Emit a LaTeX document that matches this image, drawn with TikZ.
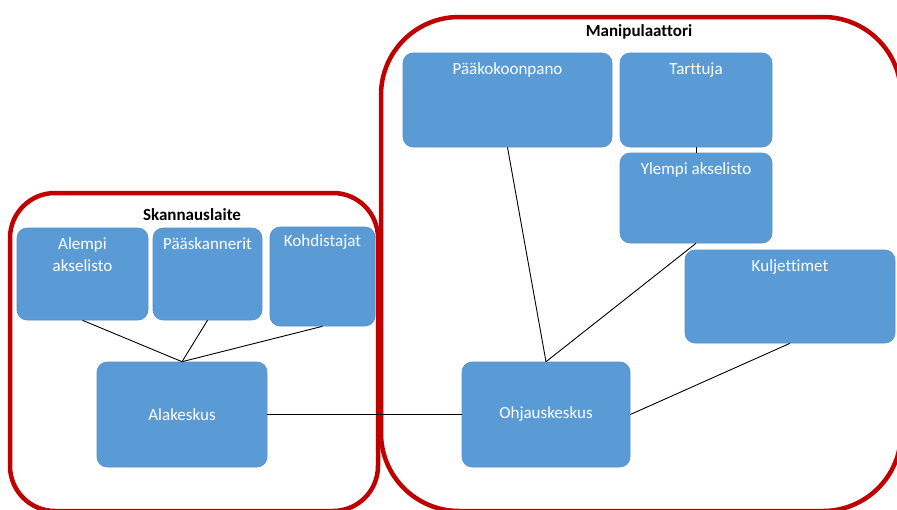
\documentclass[tikz,border=0pt]{standalone}
\usepackage{fontspec}
\setmainfont[Ligatures=NoCommon]{Carlito}
\definecolor{boxblue}{HTML}{5B9BD5}
\definecolor{boxedge}{HTML}{5390C8}
\definecolor{grpred}{HTML}{C00000}
\begin{document}
\begin{tikzpicture}[x=1pt,y=-1pt,
  group/.style={draw=grpred, line width=4.5pt},
  grouptitle/.style={font=\fontsize{17}{20}\selectfont\bfseries, text=black, inner sep=0pt},
  blk/.style={fill=boxblue, draw=boxedge, line width=0.6pt, rounded corners=10pt, inner sep=0pt},
  blktext/.style={anchor=north, inner sep=0pt, yshift=-10pt, text=white, align=center,
    font=\fontsize{17}{22}\selectfont},
  link/.style={draw=black, line width=0.9pt}]
\useasboundingbox (0,0) rectangle (897,509);
\fill[white] (0,0) rectangle (897,509);
% group frames
\draw[group, rounded corners=45pt] (10,193) rectangle (378,511);
\draw[group, rounded corners=78pt] (381,17) rectangle (901,511);
\node[grouptitle] (tskan) at (192,215) {Skannauslaite};
\node[grouptitle] (tmani) at (639,32) {Manipulaattori};
% blocks
\node[blk, minimum width=131pt, minimum height=92pt,
  label={[blktext]north:Alempi\\akselisto}] (alempi) at (82.5,274) {};
\node[blk, minimum width=109pt, minimum height=92pt,
  label={[blktext]north:Pääskannerit}] (paask) at (207.5,274) {};
\node[blk, minimum width=105pt, minimum height=99pt,
  label={[blktext, yshift=2pt]north:Kohdistajat}] (kohd) at (322.5,276.5) {};
\node[blk, minimum width=170pt, minimum height=105pt,
  font=\fontsize{17}{22}\selectfont, text=white] (alak) at (182,414.5) {Alakeskus};
\node[blk, minimum width=209pt, minimum height=94pt,
  label={[blktext]north:Pääkokoonpano}] (paakok) at (507.5,100) {};
\node[blk, minimum width=152pt, minimum height=94pt,
  label={[blktext]north:Tarttuja}] (tart) at (696,100) {};
\node[blk, minimum width=152pt, minimum height=90pt,
  label={[blktext]north:Ylempi akselisto}] (ylempi) at (696,198) {};
\node[blk, minimum width=210pt, minimum height=93pt,
  label={[blktext]north:Kuljettimet}] (kulj) at (790,296.5) {};
\node[blk, minimum width=168pt, minimum height=105pt,
  font=\fontsize{17}{22}\selectfont, text=white] (ohj) at (546,414.5) {Ohjauskeskus};
% connectors
\draw[link] (alempi.south) -- (alak.north);
\draw[link] (paask.south) -- (alak.north);
\draw[link] (kohd.south) -- (alak.north);
\draw[link] (alak.east) -- (ohj.west);
\draw[link] (paakok.south) -- (ohj.north);
\draw[link] (tart.south) -- (ylempi.north);
\draw[link] (ylempi.south) -- (ohj.north);
\draw[link] (kulj.south) -- (ohj.east);
\end{tikzpicture}
\end{document}
